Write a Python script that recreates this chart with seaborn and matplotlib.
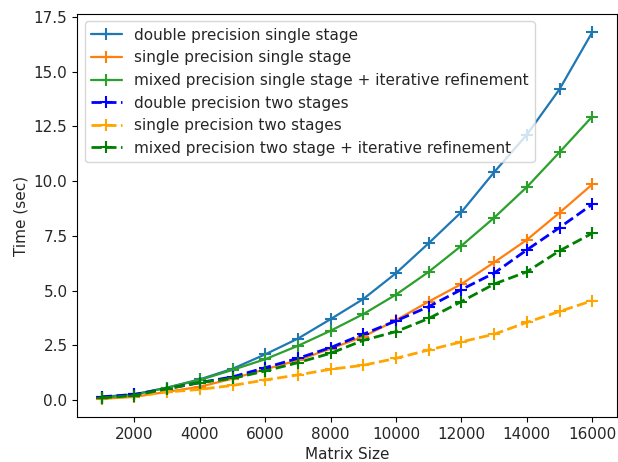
import matplotlib
matplotlib.use("Agg")
import matplotlib.pyplot as plt
import seaborn as sns
import numpy as np

matrix_size = [1000, 2000, 3000, 4000, 5000, 6000, 7000, 8000,
               9000, 10000, 11000, 12000, 13000, 14000, 15000, 16000]

double_single = [0.15, 0.26, 0.57, 0.95, 1.43, 2.09, 2.81, 3.70,
                 4.62, 5.80, 7.17, 8.59, 10.41, 12.12, 14.20, 16.80]
single_single = [0.06, 0.15, 0.38, 0.61, 0.98, 1.41, 1.82, 2.35,
                 2.90, 3.65, 4.50, 5.30, 6.29, 7.32, 8.56, 9.85]
mixed_single = [0.10, 0.26, 0.57, 0.92, 1.38, 1.87, 2.48, 3.17,
                3.93, 4.82, 5.86, 7.05, 8.33, 9.73, 11.32, 12.95]
double_two = [0.15, 0.26, 0.52, 0.80, 1.06, 1.48, 1.91, 2.40,
              3.01, 3.62, 4.27, 5.05, 5.80, 6.86, 7.88, 8.94]
single_two = [0.08, 0.18, 0.37, 0.49, 0.67, 0.92, 1.15, 1.41,
              1.59, 1.91, 2.29, 2.66, 3.01, 3.55, 4.05, 4.54]
mixed_two = [0.10, 0.21, 0.52, 0.80, 0.99, 1.33, 1.71, 2.14,
             2.73, 3.13, 3.73, 4.50, 5.30, 5.86, 6.82, 7.62]

labels = ["double precision single stage",
          "single precision single stage",
          "mixed precision single stage + iterative refinement",
          "double precision two stages",
          "single precision two stages",
          "mixed precision two stage + iterative refinement"]
series = [double_single, single_single, mixed_single, double_two, single_two, mixed_two]
colors = ["#1f77b4", "#ff7f0e", "#2ca02c", "blue", "orange", "green"]
styles = ["-", "-", "-", "--", "--", "--"]
widths = [1.6, 1.6, 1.6, 2.0, 2.0, 2.0]

sns.set_style("ticks")
plt.rcParams['font.family'] = ['DejaVu Sans']

fig, ax = plt.subplots(figsize=(6.18, 4.62), dpi=100)
fig.subplots_adjust(left=0.125, right=0.998, bottom=0.097, top=0.97)

for y, lab, c, ls, lw in zip(series, labels, colors, styles, widths):
    sns.lineplot(x=matrix_size, y=y, ax=ax, label=lab, color=c, linestyle=ls,
                 linewidth=lw, marker="+", markersize=8, markeredgewidth=1.5,
                 markeredgecolor=c)

ax.set_xlabel("Matrix Size", fontsize=11)
ax.set_ylabel("Time (sec)", fontsize=11)
ax.set_xticks([2000, 4000, 6000, 8000, 10000, 12000, 14000, 16000])
ax.set_yticks(np.arange(0, 17.6, 2.5))
ax.set_xlim(250, 16750)
ax.set_ylim(-0.78, 17.64)
ax.tick_params(labelsize=11, direction="out", length=3.5, color="black")
for s in ax.spines.values():
    s.set_visible(True)
    s.set_color("black")
    s.set_linewidth(0.8)
ax.legend(loc="upper left", fontsize=11, frameon=True)
fig.savefig("out.png", dpi=100)
